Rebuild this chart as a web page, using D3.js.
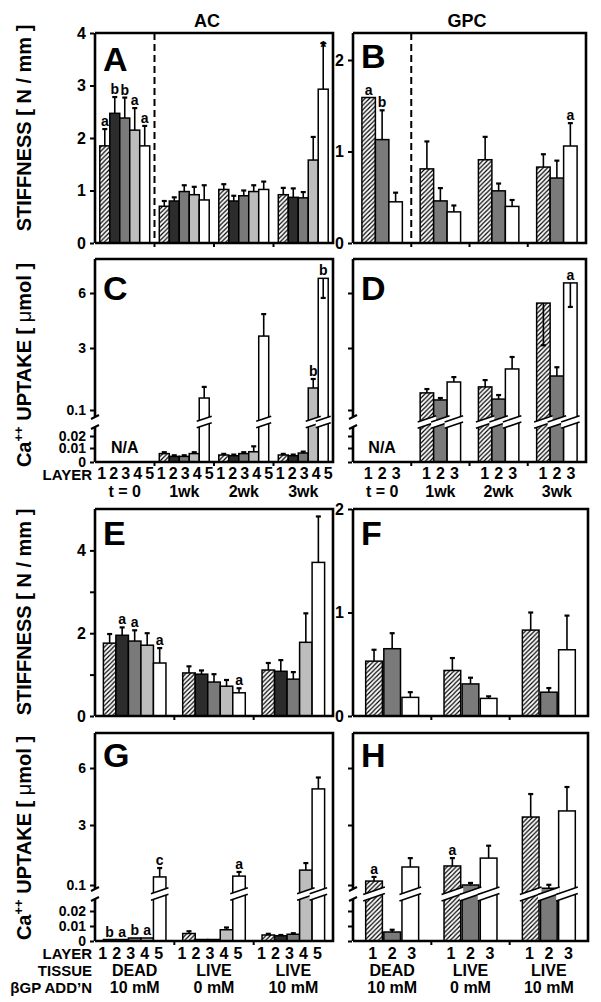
<!DOCTYPE html>
<html><head><meta charset="utf-8">
<script src="https://cdn.jsdelivr.net/npm/d3@7"></script>
<style>
body{margin:0;background:#fff}
text{font-family:"Liberation Sans",Arial,Helvetica,sans-serif;font-weight:bold;fill:#000}
</style>
</head><body><script>
// ---------------- DATA ----------------
const acLayers = ["1","2","3","4","5"];
const gpcLayers = ["1","2","3"];
const timePoints = ["t = 0","1wk","2wk","3wk"];
const tissues = ["DEAD","LIVE","LIVE"];
const bgpAdd = ["10 mM","0 mM","10 mM"];

// A: AC stiffness over time (N/mm)
const stiffACtime = [[1.85,2.47,2.38,2.15,1.85],[0.70,0.80,0.98,0.92,0.82],[1.02,0.80,0.90,0.98,1.02],[0.92,0.87,0.86,1.58,2.93]];
const stiffACtimeErr = [[0.32,0.31,0.39,0.42,0.38],[0.10,0.07,0.12,0.15,0.28],[0.10,0.10,0.10,0.12,0.15],[0.13,0.17,0.11,0.44,0.88]];
const stiffACtimeSig = [["a","b","b","a","a"],["","","","",""],["","","","",""],["","","","","*"]];

// B: GPC stiffness over time
const stiffGPCtime = [[1.59,1.13,0.45],[0.81,0.46,0.34],[0.91,0.57,0.40],[0.83,0.71,1.06]];
const stiffGPCtimeErr = [[0,0.32,0.10],[0.30,0.14,0.07],[0.25,0.08,0.07],[0.14,0.19,0.25]];
const stiffGPCtimeSig = [["a","b",""],["","",""],["","",""],["","","a"]];

// C: AC Ca++ uptake over time (umol); null = N/A
const caACtime = [null,[0.006,0.004,0.004,0.006,0.66],[0.005,0.0045,0.006,0.0073,3.65],[0.005,0.0045,0.0064,1.13,6.8]];
const caACtimeErr = [null,[0.001,0.0008,0.0008,0.001,0.52],[0.0008,0.0008,0.001,0.0041,1.2],[0.0008,0.0008,0.001,0.42,-1.07]];
const caACtimeSig = [null,["","","","",""],["","","","",""],["","","","b","b"]];

// D: GPC Ca++ uptake over time
const caGPCtime = [null,[0.9,0.57,1.41],[1.18,0.61,2.02],[5.45,1.69,6.55]];
const caGPCtimeErr = [null,[0.18,0.09,0.23],[0.32,0.19,0.56],[-2.3,0.41,-1.31]];
const caGPCtimeSig = [null,["","",""],["","",""],["","","a"]];

// E: AC stiffness by condition
const stiffACcond = [[1.76,1.95,1.81,1.71,1.28],[1.04,1.01,0.82,0.72,0.56],[1.11,1.08,0.89,1.78,3.71]];
const stiffACcondErr = [[0.22,0.19,0.26,0.29,0.36],[0.16,0.09,0.19,0.15,0.11],[0.17,0.27,0.17,0.70,1.11]];
const stiffACcondSig = [["","a","a","","a"],["","","","","a"],["","","","",""]];

// F: GPC stiffness by condition
const stiffGPCcond = [[0.53,0.65,0.18],[0.44,0.31,0.17],[0.83,0.23,0.64]];
const stiffGPCcondErr = [[0.11,0.15,0.05],[0.12,0.06,0.02],[0.17,0.04,0.33]];
const stiffGPCcondSig = [["","",""],["","",""],["","",""]];

// G: AC Ca++ uptake by condition
const caACcond = [[0.001,0.001,0.002,0.002,0.49],[0.005,0.001,0.001,0.0075,0.53],[0.004,0.0035,0.0045,0.82,4.9]];
const caACcondErr = [[0,0,0,0,0.43],[0.0015,0,0,0.0015,0.2],[0.0008,0.0005,0.0007,0.34,0.6]];
const caACcondSig = [["b","a","b","a","c"],["","","","","a"],["","","","",""]];

// H: GPC Ca++ uptake by condition
const caGPCcond = [[0.29,0.006,0.97],[1.02,0.1,1.4],[3.42,0.09,3.74]];
const caGPCcondErr = [[0.2,0.0015,0.43],[0.38,0.1,0.6],[1.21,0.02,1.26]];
const caGPCcondSig = [["a","",""],["a","",""],["","",""]];

const stiffTicks = [0,1,2,3,4];
const stiffTicksE = [0,1,2,3,4];
const gpcStiffTicks = [0,1,2];
const caTicks = [0,0.01,0.02,0.1,3,6];
const caDomain = [0,0.01,0.02,0.1,3,6];

// ---------------- STYLE / LAYOUT ----------------
const FONT = '"Liberation Sans",Arial,Helvetica,sans-serif';
const acFills = ["url(#hatch)","#2c2c2c","#7a7a7a","#bdbdbd","#ffffff"];
const gpcFills = ["url(#hatch)","#7a7a7a","#ffffff"];

const svg = d3.select("body").append("svg").attr("width",601).attr("height",1002).style("display","block");
const defs = svg.append("defs");
const pat = defs.append("pattern").attr("id","hatch").attr("patternUnits","userSpaceOnUse").attr("width",4.5).attr("height",4.5);
pat.append("rect").attr("width",4.5).attr("height",4.5).attr("fill","#fff");
pat.append("path").attr("d","M-1,1 L1,-1 M0,4.5 L4.5,0 M3.5,5.5 L5.5,3.5").attr("stroke","#000").attr("stroke-width",1.2);

const panels = [
 {L:"A",x0:95,x1:333,top:33,scale:d3.scaleLinear().domain([0,4]).range([243,33]),ticks:stiffTicks,fmt:d=>d,
  groups:timePoints,layers:acLayers,vals:stiffACtime,errs:stiffACtimeErr,sigs:stiffACtimeSig,fills:acFills,pad:0.48,inner:0,dashed:true,letterY:71},
 {L:"B",x0:353,x1:586,top:33,scale:d3.scaleLinear().domain([0,2.295]).range([243,33]),ticks:gpcStiffTicks,fmt:d=>d,
  groups:timePoints,layers:gpcLayers,vals:stiffGPCtime,errs:stiffGPCtimeErr,sigs:stiffGPCtimeSig,fills:gpcFills,pad:0.66,inner:0,dashed:true,letterY:68},
 {L:"C",x0:95,x1:333,top:259,scale:d3.scaleLinear().domain(caDomain).range([462,448,436,410,348,293]),ticks:caTicks,fmt:d=>d,brk:[417,427],
  groups:timePoints,layers:acLayers,vals:caACtime,errs:caACtimeErr,sigs:caACtimeSig,fills:acFills,pad:0.48,inner:0,letterY:300,
  numY:479,numStep:12,numShift:1,groupRows:[[timePoints,497]]},
 {L:"D",x0:353,x1:586,top:259,scale:d3.scaleLinear().domain(caDomain).range([462,448,436,410,348,293]),ticks:caTicks,fmt:()=>"",brk:[417,427],
  groups:timePoints,layers:gpcLayers,vals:caGPCtime,errs:caGPCtimeErr,sigs:caGPCtimeSig,fills:gpcFills,pad:0.66,inner:0,letterY:300,
  numY:479,numStep:14,numShift:0,groupRows:[[timePoints,497]]},
 {L:"E",x0:95,x1:333,top:509,scale:d3.scaleLinear().domain([0,5]).range([716,509]),ticks:stiffTicksE,fmt:d=>d%2===0?d:"",
  groups:tissues,layers:acLayers,vals:stiffACcond,errs:stiffACcondErr,sigs:stiffACcondSig,fills:acFills,pad:0.67,inner:0,letterY:545},
 {L:"F",x0:353,x1:588,top:509,scale:d3.scaleLinear().domain([0,2]).range([716,509]),ticks:gpcStiffTicks,fmt:d=>d,
  groups:tissues,layers:gpcLayers,vals:stiffGPCcond,errs:stiffGPCcondErr,sigs:stiffGPCcondSig,fills:gpcFills,pad:0.7,inner:0.08,letterY:545},
 {L:"G",x0:95,x1:333,top:733,scale:d3.scaleLinear().domain(caDomain).range([941,926,911,885,825,768]),ticks:caTicks,fmt:d=>d,brk:[889,899],
  groups:tissues,layers:acLayers,vals:caACcond,errs:caACcondErr,sigs:caACcondSig,fills:acFills,pad:0.67,inner:0,letterY:767,
  numY:959,numStep:14,numShift:-4,groupRows:[[tissues,976],[bgpAdd,993]]},
 {L:"H",x0:353,x1:588,top:733,scale:d3.scaleLinear().domain(caDomain).range([941,926,911,885,825,768]),ticks:caTicks,fmt:()=>"",brk:[889,899],
  groups:tissues,layers:gpcLayers,vals:caGPCcond,errs:caGPCcondErr,sigs:caGPCcondSig,fills:gpcFills,pad:0.7,inner:0.08,letterY:767,
  numY:959,numStep:19.5,numShift:0,groupRows:[[tissues,976],[bgpAdd,993]]}
];

function drawPanel(p){
  const g = svg.append("g");
  const y = p.scale;
  const yb = y(0);
  const gx = d3.scaleBand().domain(d3.range(p.groups.length)).range([p.x0,p.x1]);
  const lx = d3.scaleBand().domain(d3.range(p.layers.length)).range([0,gx.bandwidth()])
     .paddingInner(p.inner).paddingOuter(p.pad);
  const bw = lx.bandwidth();
  const bars = [];
  p.vals.forEach((grp,gi)=>{
    if(!grp) return;
    grp.forEach((v,li)=>{
      bars.push({gi,li,v,e:p.errs[gi][li],s:p.sigs[gi][li],x:gx(gi)+lx(li)});
    });
  });
  // bars
  g.selectAll("rect.bar").data(bars).join("rect").attr("class","bar")
    .attr("x",d=>d.x).attr("width",bw)
    .attr("y",d=>y(d.v)).attr("height",d=>yb-y(d.v))
    .attr("fill",d=>p.fills[d.li]).attr("stroke","#000").attr("stroke-width",1.5);
  // break bands on bars
  if(p.brk){
    const yc = (p.brk[0]+p.brk[1])/2, h=3.2, e=2.5;
    bars.filter(d=>d.v>0.05).forEach(d=>{
      const xa=d.x-e, xb=d.x+bw+e, s=(xb-xa)*0.17;
      g.append("path").attr("d",`M${xa},${yc+h+s}L${xb},${yc+h-s}L${xb},${yc-h-s}L${xa},${yc-h+s}Z`).attr("fill","#fff");
      g.append("path").attr("d",`M${xa},${yc+h+s}L${xb},${yc+h-s}M${xa},${yc-h+s}L${xb},${yc-h-s}`)
        .attr("stroke","#000").attr("stroke-width",1.6).attr("fill","none");
    });
  }
  // error bars
  bars.filter(d=>d.e!==0).forEach(d=>{
    const cx=d.x+bw/2, y1=y(d.v), y2=y(d.v+d.e);
    g.append("line").attr("x1",cx).attr("x2",cx).attr("y1",y1).attr("y2",y2).attr("stroke","#000").attr("stroke-width",1.6);
    g.append("line").attr("x1",cx-2.5).attr("x2",cx+2.5).attr("y1",y2).attr("y2",y2).attr("stroke","#000").attr("stroke-width",2.2);
  });
  // significance letters
  g.selectAll("text.sig").data(bars.filter(d=>d.s)).join("text").attr("class","sig")
    .attr("x",d=>d.x+bw/2)
    .attr("y",d=>{
      const t = Math.min(y(d.v),y(d.v+Math.max(d.e,0)));
      return d.s==="*" ? t+10 : t-3;
    })
    .attr("text-anchor","middle").attr("font-size",d=>d.s==="*"?17:14).text(d=>d.s);
  // N/A
  p.vals.forEach((grp,gi)=>{
    if(!grp) g.append("text").attr("x",gx(gi)+gx.bandwidth()/2).attr("y",yb-9).attr("text-anchor","middle")
       .attr("font-size",16).text("N/A");
  });
  // dashed separator
  if(p.dashed){
    g.append("line").attr("x1",gx(1)).attr("x2",gx(1)).attr("y1",p.top).attr("y2",yb)
      .attr("stroke","#000").attr("stroke-width",2).attr("stroke-dasharray","7,4");
  }
  // frame (top, right, bottom)
  g.append("path").attr("d",`M${p.x0},${p.top}L${p.x1},${p.top}L${p.x1},${yb}L${p.x0},${yb}`)
    .attr("fill","none").attr("stroke","#000").attr("stroke-width",2.6);
  // left axis line
  if(p.brk){
    g.append("path").attr("d",`M${p.x0},${p.top}L${p.x0},${p.brk[0]}M${p.x0},${p.brk[1]}L${p.x0},${yb}`)
      .attr("stroke","#000").attr("stroke-width",2.6).attr("fill","none");
    g.append("path").attr("d",`M${p.x0-4},${p.brk[0]+2}L${p.x0+4},${p.brk[0]-2}M${p.x0-4},${p.brk[1]+2}L${p.x0+4},${p.brk[1]-2}`)
      .attr("stroke","#000").attr("stroke-width",2).attr("fill","none");
  } else {
    g.append("line").attr("x1",p.x0).attr("x2",p.x0).attr("y1",p.top).attr("y2",yb).attr("stroke","#000").attr("stroke-width",2.6);
  }
  // y axis ticks + labels
  const ax = d3.axisLeft(y).tickValues(p.ticks).tickSize(4).tickPadding(4).tickFormat(p.fmt);
  const axg = g.append("g").attr("transform",`translate(${p.x0-1},0)`).call(ax);
  axg.select(".domain").remove();
  axg.selectAll("line").attr("stroke","#000").attr("stroke-width",2);
  axg.selectAll("text").attr("font-size",p.brk?14:16).attr("font-family",FONT).attr("font-weight","bold").attr("fill","#000");
  // bottom group ticks
  d3.range(1,p.groups.length).forEach(i=>{
    g.append("line").attr("x1",gx(i)).attr("x2",gx(i)).attr("y1",yb).attr("y2",yb+4).attr("stroke","#000").attr("stroke-width",2);
  });
  // letter
  g.append("text").attr("x",p.x0+8).attr("y",p.letterY).attr("font-size",34).text(p.L);
  // layer numbers
  if(p.numY){
    const n = p.layers.length;
    p.groups.forEach((gr,gi)=>{
      const c = gx(gi)+gx.bandwidth()/2+p.numShift;
      p.layers.forEach((ly,li)=>{
        g.append("text").attr("x",c+(li-(n-1)/2)*p.numStep).attr("y",p.numY).attr("text-anchor","middle").attr("font-size",16).text(ly);
      });
    });
    (p.groupRows||[]).forEach(([labels,yy])=>{
      labels.forEach((t,gi)=>{
        g.append("text").attr("x",gx(gi)+gx.bandwidth()/2).attr("y",yy).attr("text-anchor","middle").attr("font-size",16).text(t);
      });
    });
  }
}
panels.forEach(drawPanel);

// row labels
svg.append("text").attr("x",92).attr("y",480).attr("text-anchor","end").attr("font-size",15).text("LAYER");
svg.append("text").attr("x",92).attr("y",959).attr("text-anchor","end").attr("font-size",15).text("LAYER");
svg.append("text").attr("x",92).attr("y",976).attr("text-anchor","end").attr("font-size",15).text("TISSUE");
svg.append("text").attr("x",92).attr("y",993).attr("text-anchor","end").attr("font-size",15).text("\u03B2GP ADD\u2019N");

// column titles
svg.append("text").attr("x",207).attr("y",27).attr("text-anchor","middle").attr("font-size",18).text("AC");
svg.append("text").attr("x",467).attr("y",27).attr("text-anchor","middle").attr("font-size",18).text("GPC");

// y-axis titles
function stiffTitle(cy){
  svg.append("text").attr("transform",`translate(31,${cy}) rotate(-90)`).attr("text-anchor","middle")
    .attr("font-size",20).text("STIFFNESS [ N / mm ]");
}
function caTitle(cy){
  const t = svg.append("text").attr("transform",`translate(31,${cy}) rotate(-90)`).attr("text-anchor","middle").attr("font-size",20);
  t.append("tspan").text("Ca");
  t.append("tspan").attr("font-size",13).attr("dy",-8).text("++");
  t.append("tspan").attr("dy",8).text(" UPTAKE [ ");
  t.append("tspan").attr("font-weight","normal").text("\u03BC");
  t.append("tspan").text("mol ]");
}
stiffTitle(128); caTitle(365); stiffTitle(612); caTitle(838);
</script></body></html>
